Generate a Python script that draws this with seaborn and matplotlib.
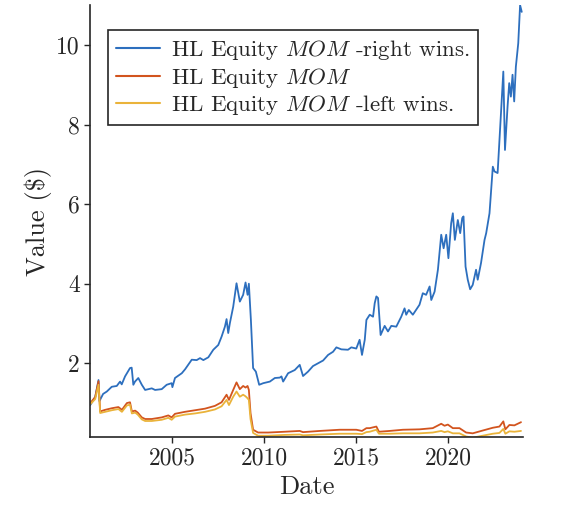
#import libraries
import numpy as np
import pandas as pd
import matplotlib.pyplot as plt
import seaborn as sns

# data (decimal years, value in $)
blue_t = [2000.56, 2000.83, 2001.01, 2001.06, 2001.26, 2001.46, 2001.73, 2002.00, 2002.18, 2002.27,
          2002.45, 2002.72, 2002.81, 2002.90, 2002.99, 2003.17, 2003.36, 2003.54, 2003.90, 2004.08,
          2004.44, 2004.71, 2004.98, 2005.02, 2005.16, 2005.53, 2005.71, 2006.07, 2006.34, 2006.52,
          2006.70, 2006.97, 2007.24, 2007.51, 2007.69, 2007.87, 2007.96, 2008.05, 2008.14, 2008.32,
          2008.50, 2008.68, 2008.86, 2008.99, 2009.10, 2009.17, 2009.28, 2009.40, 2009.55, 2009.73,
          2009.95, 2010.31, 2010.58, 2010.85, 2010.94, 2011.03, 2011.30, 2011.66, 2011.93, 2012.11,
          2012.38, 2012.65, 2012.92, 2013.20, 2013.47, 2013.74, 2013.92, 2014.19, 2014.55, 2014.73,
          2015.00, 2015.18, 2015.31, 2015.46, 2015.55, 2015.73, 2015.91, 2016.00, 2016.09, 2016.18,
          2016.32, 2016.54, 2016.72, 2016.90, 2017.17, 2017.44, 2017.62, 2017.71, 2017.85, 2018.07,
          2018.43, 2018.61, 2018.79, 2018.98, 2019.07, 2019.25, 2019.43, 2019.61, 2019.74, 2019.88,
          2020.00, 2020.15, 2020.24, 2020.35, 2020.51, 2020.64, 2020.75, 2020.82, 2020.93, 2021.05,
          2021.18, 2021.32, 2021.50, 2021.59, 2021.77, 2021.96, 2022.05, 2022.23, 2022.41, 2022.50,
          2022.67, 2022.86, 2022.98, 2023.07, 2023.21, 2023.30, 2023.39, 2023.48, 2023.57, 2023.66,
          2023.79, 2023.89, 2023.98]
blue_v = [0.95, 1.15, 1.58, 1.05, 1.23, 1.29, 1.41, 1.43, 1.54, 1.47,
          1.67, 1.88, 1.89, 1.46, 1.54, 1.63, 1.46, 1.33, 1.37, 1.33,
          1.35, 1.46, 1.50, 1.40, 1.63, 1.75, 1.85, 2.09, 2.08, 2.13,
          2.08, 2.15, 2.34, 2.46, 2.67, 2.92, 3.11, 2.76, 3.01, 3.42,
          4.01, 3.55, 3.72, 4.03, 3.72, 4.00, 3.09, 1.88, 1.79, 1.46,
          1.50, 1.54, 1.63, 1.64, 1.67, 1.54, 1.75, 1.83, 1.96, 1.68,
          1.79, 1.93, 2.00, 2.07, 2.21, 2.29, 2.40, 2.35, 2.34, 2.40,
          2.37, 2.59, 2.21, 2.59, 3.09, 3.22, 3.17, 3.51, 3.68, 3.64,
          2.71, 2.94, 2.80, 2.94, 2.92, 3.17, 3.38, 3.22, 3.34, 3.22,
          3.47, 3.76, 3.72, 3.93, 3.59, 3.80, 4.35, 5.23, 4.89, 5.23,
          4.64, 5.52, 5.77, 5.10, 5.60, 5.27, 5.65, 5.69, 4.43, 4.10,
          3.86, 3.97, 4.35, 4.10, 4.52, 5.10, 5.27, 5.77, 6.94, 6.82,
          6.78, 8.37, 9.33, 7.36, 8.45, 9.04, 8.70, 9.25, 8.58, 9.45,
          10.04, 11.00, 10.83]

mid_t = [2000.56, 2000.83, 2001.01, 2001.10, 2001.37, 2001.73, 2002.09, 2002.28, 2002.55, 2002.72,
         2002.82, 2003.00, 2003.14, 2003.36, 2003.54, 2003.90, 2004.44, 2004.80, 2004.98, 2005.16,
         2005.70, 2006.25, 2006.79, 2007.33, 2007.69, 2007.96, 2008.09, 2008.32, 2008.50, 2008.68,
         2008.86, 2008.99, 2009.10, 2009.17, 2009.26, 2009.40, 2009.67, 2010.22, 2011.12, 2011.93,
         2012.11, 2013.02, 2014.10, 2015.00, 2015.31, 2015.55, 2015.73, 2016.09, 2016.23, 2016.81,
         2017.53, 2018.43, 2019.15, 2019.61, 2019.79, 2019.97, 2020.24, 2020.60, 2020.96, 2021.32,
         2021.86, 2022.41, 2022.77, 2022.98, 2023.09, 2023.31, 2023.58, 2023.94]
orange_v = [1.00, 1.15, 1.55, 0.79, 0.83, 0.87, 0.90, 0.83, 1.00, 1.02,
            0.79, 0.81, 0.76, 0.64, 0.60, 0.60, 0.64, 0.69, 0.64, 0.73,
            0.78, 0.82, 0.86, 0.93, 1.02, 1.21, 1.08, 1.33, 1.52, 1.35,
            1.43, 1.39, 1.43, 1.33, 0.75, 0.33, 0.26, 0.26, 0.28, 0.30,
            0.27, 0.30, 0.33, 0.33, 0.30, 0.37, 0.37, 0.41, 0.28, 0.30,
            0.33, 0.34, 0.37, 0.48, 0.43, 0.46, 0.37, 0.37, 0.26, 0.24,
            0.31, 0.38, 0.41, 0.54, 0.34, 0.45, 0.44, 0.52]
yellow_v = [0.97, 1.10, 1.46, 0.75, 0.78, 0.82, 0.85, 0.78, 0.94, 0.96,
            0.74, 0.76, 0.71, 0.59, 0.55, 0.55, 0.58, 0.63, 0.58, 0.66,
            0.71, 0.74, 0.78, 0.84, 0.92, 1.08, 0.95, 1.16, 1.29, 1.16,
            1.21, 1.17, 1.12, 1.08, 0.60, 0.25, 0.18, 0.18, 0.20, 0.21,
            0.19, 0.21, 0.23, 0.23, 0.22, 0.27, 0.28, 0.33, 0.23, 0.23,
            0.24, 0.24, 0.26, 0.30, 0.27, 0.29, 0.24, 0.24, 0.16, 0.13,
            0.18, 0.23, 0.25, 0.35, 0.23, 0.29, 0.28, 0.30]

labels = ['HL Equity $MOM$ -right wins.', 'HL Equity $MOM$', 'HL Equity $MOM$ -left wins.']
colors = ['#2D6FBE', '#D2541E', '#EAB33A']

df = pd.concat([
    pd.DataFrame({'Date': blue_t, 'Value': blue_v, 'series': labels[0]}),
    pd.DataFrame({'Date': mid_t, 'Value': orange_v, 'series': labels[1]}),
    pd.DataFrame({'Date': mid_t, 'Value': yellow_v, 'series': labels[2]}),
])

sns.set_style('ticks')
plt.rcParams['font.family'] = 'serif'
plt.rcParams['font.serif'] = ['cmr10']
plt.rcParams['mathtext.fontset'] = 'cm'
plt.rcParams['axes.formatter.use_mathtext'] = True

fig = plt.figure(figsize=(5.71, 5.11), dpi=100)
ax = fig.add_axes([0.158, 0.145, 0.758, 0.845])
sns.lineplot(data=df, x='Date', y='Value', hue='series', palette=colors,
             linewidth=1.3, ax=ax, estimator=None, sort=True)

ax.set_xlim(2000.56, 2024.05)
ax.set_ylim(0.15, 11.0)
ax.set_xticks([2005, 2010, 2015, 2020])
ax.set_xticklabels(['2005', '2010', '2015', '2020'])
ax.set_yticks([2, 4, 6, 8, 10])
ax.set_yticklabels(['2', '4', '6', '8', '10'])
ax.tick_params(labelsize=17, length=4, width=1, direction='out')
ax.set_xlabel('Date', fontsize=19)
ax.set_ylabel('Value (\\$)', fontsize=19, labelpad=3)
sns.despine(ax=ax)
for s in ['left', 'bottom']:
    ax.spines[s].set_linewidth(1.2)
    ax.spines[s].set_color('#262626')

leg = ax.legend(loc='upper left', bbox_to_anchor=(0.042, 0.942), borderaxespad=0,
                fontsize=16.5, frameon=True, fancybox=False, edgecolor='#262626',
                framealpha=1, handlelength=1.9, borderpad=0.35, labelspacing=0.15,
                handletextpad=0.5)
leg.get_frame().set_linewidth(1.2)
for line in leg.get_lines():
    line.set_linewidth(1.5)

plt.savefig('out.png', dpi=100)
